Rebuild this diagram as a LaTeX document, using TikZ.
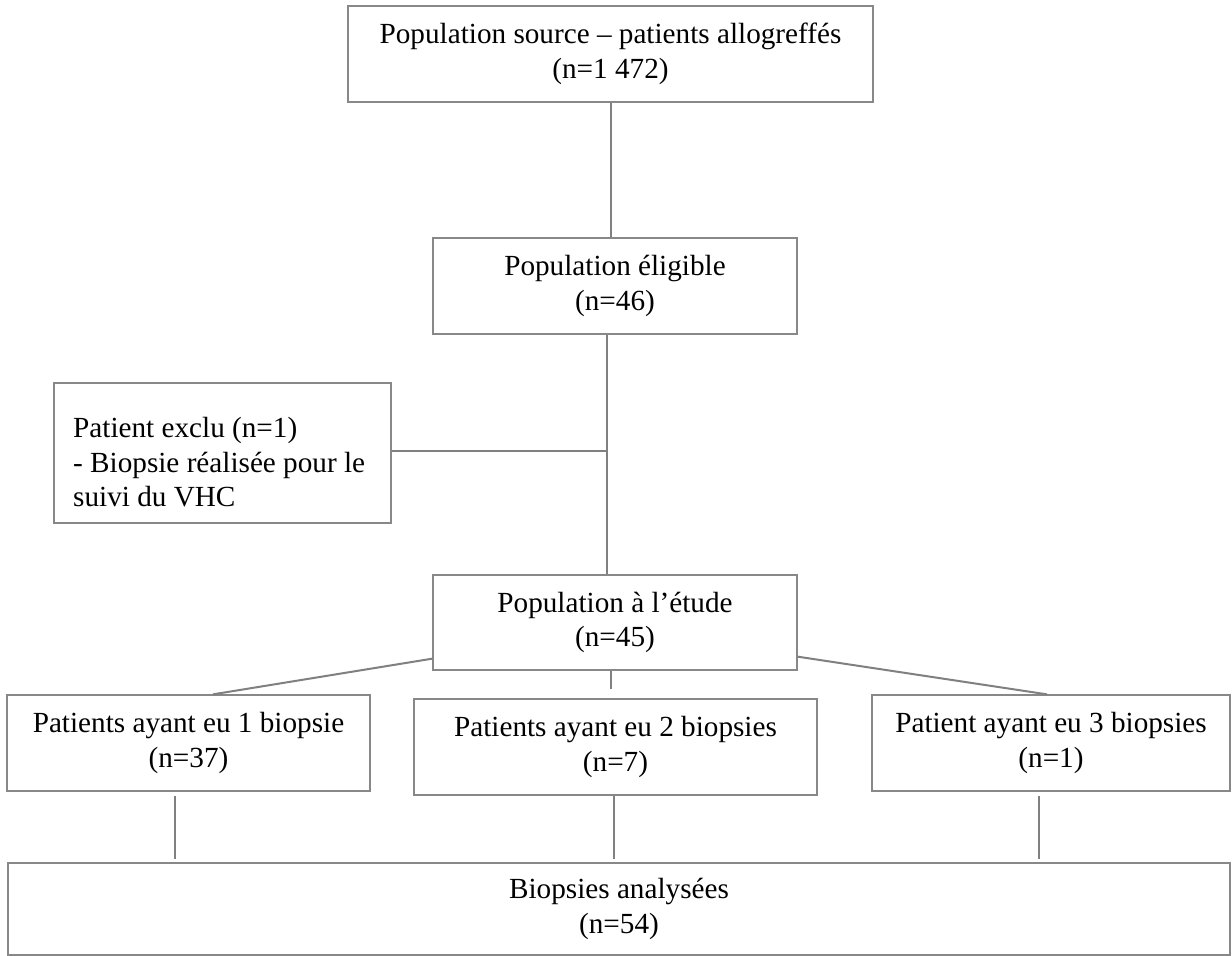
\documentclass[tikz,border=0pt]{standalone}
\usepackage{fontspec}
\setmainfont{Liberation Serif}
\definecolor{boxgray}{RGB}{136,136,136}
\definecolor{linegray}{RGB}{128,128,128}
\begin{document}
\begin{tikzpicture}[x=1pt,y=-1pt,
  txt/.style={font=\fontsize{29.2}{34.5}\selectfont},
  box/.style={draw=boxgray, line width=1.3pt, fill=white, inner sep=0pt, align=center, txt},
  conn/.style={draw=linegray, line width=2pt}]
\useasboundingbox[fill=white] (0,0) rectangle (1232,956);

\node[box, minimum width=525pt, minimum height=96pt] (b1) at (610.5,54) {Population source – patients allogreffés\\(n=1 472)};
\node[box, minimum width=364pt, minimum height=96pt] (b2) at (615,286) {Population éligible\\(n=46)};
\node[box, minimum width=337pt, minimum height=140pt] (ex) at (222.5,453) {};
\node[txt, anchor=north west, inner sep=0pt, align=left] (extext) at (73,417.5) {Patient exclu (n=1)\\- Biopsie réalisée pour le\\suivi du VHC};
\node[box, minimum width=364pt, minimum height=95pt] (b3) at (615,622.5) {Population à l’étude\\(n=45)};
\node[box, minimum width=363pt, minimum height=96pt] (b4a) at (188.5,743) {Patients ayant eu 1 biopsie\\(n=37)};
\node[box, minimum width=403pt, minimum height=96pt] (b4b) at (615.5,747) {Patients ayant eu 2 biopsies\\(n=7)};
\node[box, minimum width=358pt, minimum height=96pt] (b4c) at (1051,743) {Patient ayant eu 3 biopsies\\(n=1)};
\node[box, minimum width=1222pt, minimum height=92pt] (b5) at (619,909) {Biopsies analysées\\(n=54)};

\coordinate (j) at (607,451);
\coordinate (m) at (611,689);
\coordinate (e1) at (175,859);
\coordinate (e2) at (614,859);
\coordinate (e3) at (1039,859);

\draw[conn] (b1.south) -- (b1.south |- b2.north);
\draw[conn] ([xshift=-8pt]b2.south) -- ([xshift=-8pt]b3.north);
\draw[conn] (ex.east |- j) -- (j);
\draw[conn] ([yshift=12pt]b3.south west) -- ([xshift=24.5pt]b4a.north);
\draw[conn] ([yshift=14pt]b3.south east) -- ([xshift=-4pt]b4c.north);
\draw[conn] (b3.south -| m) -- (m);
\path (b4a.south -| e1) ++(0,4) coordinate (s1);
\path (b4b.south -| e2) ++(0,0) coordinate (s2);
\path (b4c.south -| e3) ++(0,4) coordinate (s3);
\draw[conn] (s1) -- (e1);
\draw[conn] (s2) -- (e2);
\draw[conn] (s3) -- (e3);
\end{tikzpicture}
\end{document}
